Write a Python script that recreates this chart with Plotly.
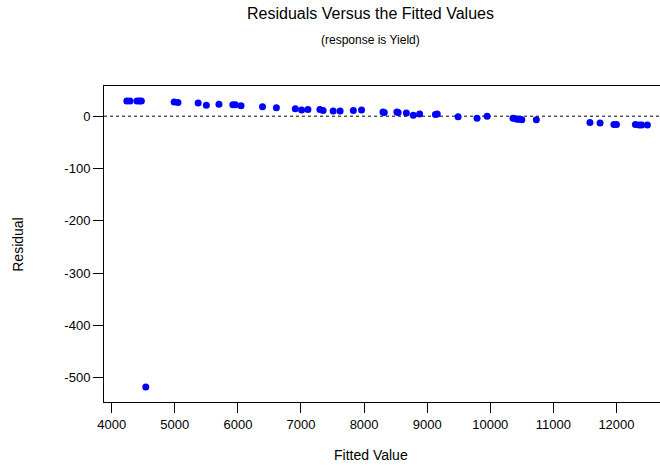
import plotly.graph_objects as go

fitted = [4240, 4290, 4400, 4440, 4470, 4540, 4990, 5050, 5370, 5500, 5700, 5920, 5960, 6050,
          6390, 6610, 6910, 7010, 7110, 7300, 7350, 7510, 7620, 7830, 7960, 8300, 8320, 8520,
          8540, 8670, 8780, 8880, 9130, 9160, 9490, 9790, 9950, 10360, 10400, 10430, 10470,
          10500, 10730, 11580, 11740, 11960, 12000, 12300, 12360, 12400, 12490]
residual = [29, 29, 29, 29, 29, -518, 27, 26, 25, 21, 23, 22, 22, 20,
            18, 16, 14, 12, 13, 13, 11, 10, 10, 11, 12, 8, 7, 8,
            7, 6, 2, 4, 3, 4, -1, -4, 0, -4, -5, -6, -6,
            -7, -7, -12, -13, -16, -16, -16, -17, -17, -17]

x_ticks = [4000, 5000, 6000, 7000, 8000, 9000, 10000, 11000, 12000]
x_tick_text = ["4000", "5000", "6000", "7000", "8000", "9000", "10000", "11000", "12000"]
y_ticks = [0, -100, -200, -300, -400, -500]
y_tick_text = ["0", "-100", "-200", "-300", "-400", "-500"]

FONT = "Liberation Sans, Arial, sans-serif"

fig = go.Figure()
fig.add_trace(go.Scatter(
    x=fitted, y=residual, mode="markers",
    marker=dict(color="rgb(0,0,255)", size=7, line=dict(width=0)),
    showlegend=False, cliponaxis=False,
))

fig.add_shape(type="line", xref="paper", yref="y", x0=0, x1=1, y0=0, y1=0,
              line=dict(color="black", width=1, dash="3px,3px"), layer="below")

fig.update_layout(
    width=660, height=466,
    margin=dict(l=104, r=0, t=86, b=64),
    paper_bgcolor="white", plot_bgcolor="white",
    font=dict(family=FONT, color="black", size=13),
    xaxis=dict(range=[3878, 12690], tickvals=x_ticks, ticktext=x_tick_text,
               ticks="outside", ticklen=10,
               tickcolor="black", tickwidth=1, showline=True, linecolor="black",
               linewidth=1, mirror=True, showgrid=False, zeroline=False,
               tickfont=dict(size=13, family=FONT)),
    yaxis=dict(range=[-546.5, 57.7], tickvals=y_ticks, ticktext=y_tick_text,
               ticks="outside", ticklen=10, tickcolor="black", tickwidth=1,
               showline=True, linecolor="black", linewidth=1, showgrid=False,
               zeroline=False, tickfont=dict(size=13, family=FONT)),
    annotations=[
        dict(text="Residuals Versus the Fitted Values", xref="paper", yref="paper",
             x=0.48, y=1.228, xanchor="center", yanchor="middle", showarrow=False,
             font=dict(size=16, family=FONT)),
        dict(text="(response is Yield)", xref="paper", yref="paper",
             x=0.48, y=1.146, xanchor="center", yanchor="middle", showarrow=False,
             font=dict(size=12, family=FONT)),
        dict(text="Fitted Value", xref="paper", yref="paper",
             x=0.48, y=-0.168, xanchor="center", yanchor="middle", showarrow=False,
             font=dict(size=14, family=FONT)),
        dict(text="Residual", xref="paper", yref="paper", textangle=-90,
             x=-0.155, y=0.497, xanchor="center", yanchor="middle", showarrow=False,
             font=dict(size=14, family=FONT)),
    ],
)

fig.write_html("out.html", config={"displayModeBar": False},
               post_script="document.body.style.margin='0';document.body.style.overflow='hidden';")
